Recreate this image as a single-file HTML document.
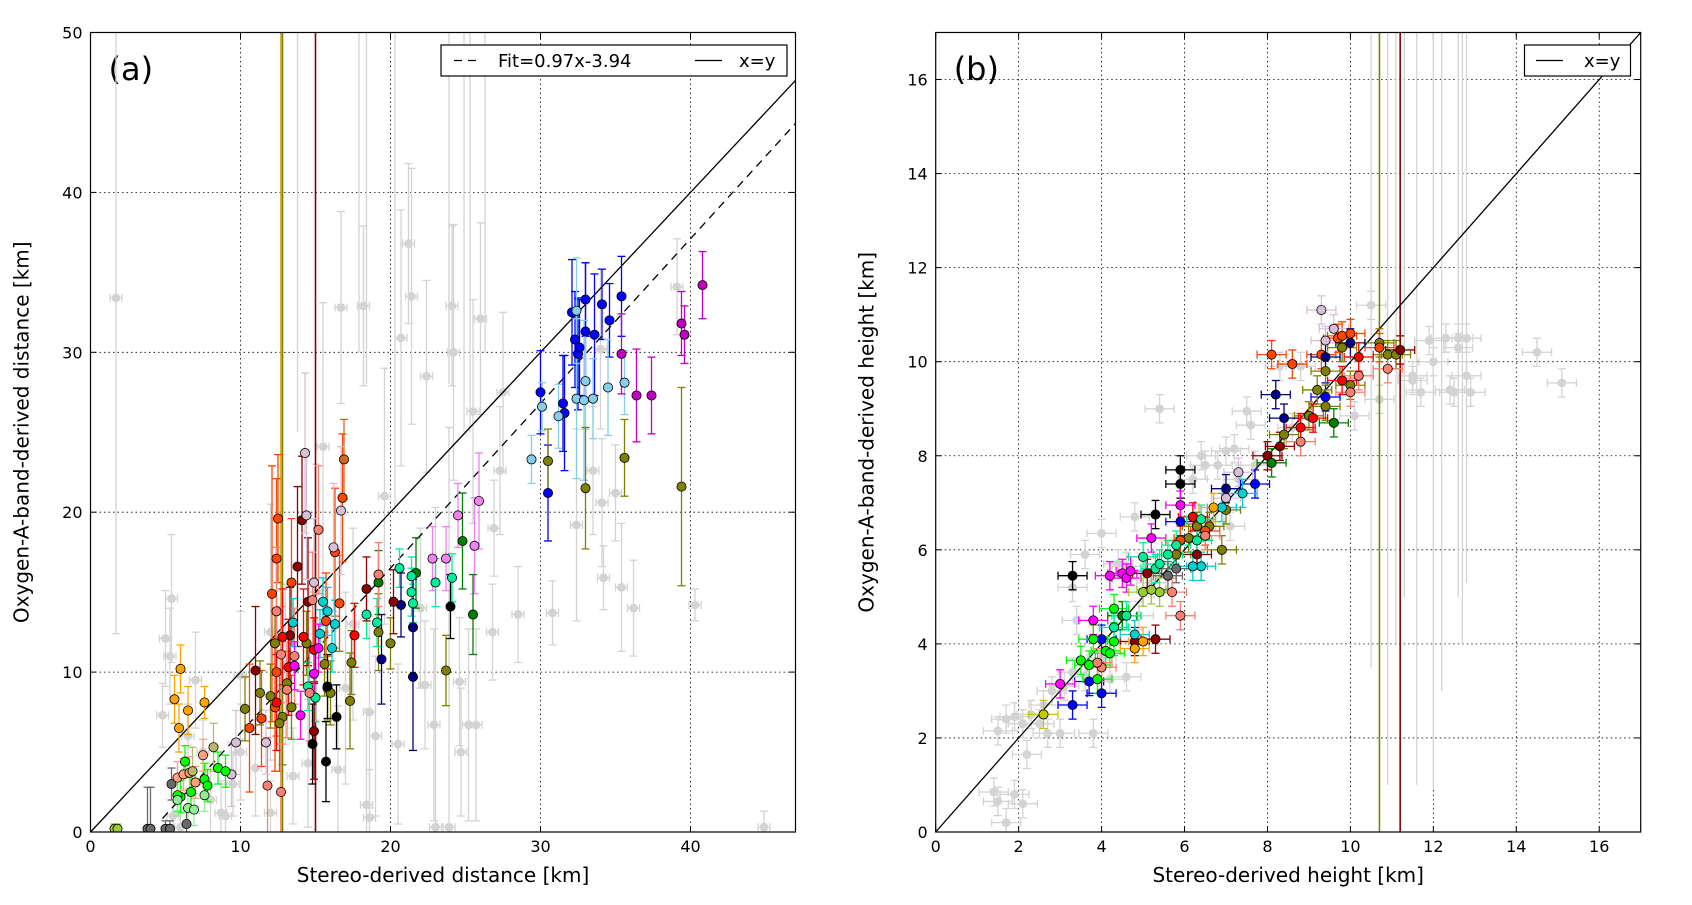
<!DOCTYPE html>
<html><head><meta charset="utf-8">
<style>
html,body{margin:0;padding:0;background:#fff;width:1692px;height:905px;overflow:hidden;}
svg{display:block;font-family:"DejaVu Sans","Liberation Sans",sans-serif;}
</style></head>
<body>
<svg id="fig" width="1692" height="905" viewBox="0 0 1692 905" xmlns="http://www.w3.org/2000/svg">
<defs>
<clipPath id="clipA"><rect x="90.5" y="32.5" width="705" height="800"/></clipPath>
<clipPath id="clipB"><rect x="935.7" y="32.5" width="705" height="800"/></clipPath>
</defs>
<rect width="1692" height="905" fill="#fff"/>
<g id="panelA"></g>
<g id="panelB"></g>
</svg>
<script>
// ---------- Panel (a) data: [x, y, yerr] ----------
const aTicksX = [0,10,20,30,40];
const aTicksY = [0,10,20,30,40,50];
const aGray = [[1.7,33.4,21],[5.4,14.6,4],[5,12.1,3],[5.3,11,3],[4.8,7.3,2],[7,9.5,3],[10,9.8,4],[13,10.5,5],[15.5,24.1,9],[16.7,32.8,6],[18.2,32.9,5],[18.4,1.7,6],[21.2,36.8,5],[20.7,30.9,8],[21.4,33.5,8],[22.4,28.5,6],[24.1,32.9,5],[24.2,30,8],[25.5,26.3,7],[26,32.1,6],[26.9,19,3],[27.3,22.6,4],[27.5,27.5,5],[28.5,13.6,3],[26.8,12.5,3],[30.8,13.7,2],[32.4,19.2,6],[33.5,22.6,4],[34,30.2,5],[34.1,20.6,4],[35,21.2,3],[34.2,15.9,2],[35.4,15.3,4],[36.2,14,3],[39.1,34.1,3],[40.3,14.2,1],[44.9,0.3,1],[25.7,6.7,6],[25.2,6.7,6],[22.9,6.7,6],[24.7,5,4],[22.3,9.2,4],[24.6,9.4,4],[23,0.3,20],[23.9,0.3,25],[20.5,5.5,5],[18.6,7.5,6],[16.5,3.9,4],[14.5,4.3,4],[12,12.5,8],[10,5,3],[9,1,2],[8.7,1.2,2],[12,1.2,2],[18.6,0.9,3],[19.6,21,8],[17.5,13,6],[22,14,5],[6.5,6,2],[7.5,5,2],[8,2,2],[9.5,3,2],[11,4,3],[13.5,3.5,3],[15,15,8],[17,9,6],[19,6,5],[5.5,1,1],[6,0.3,1]];
const aGrayTall = [[13.8,25],[17.9,30],[20.3,20],[23.9,28],[24.9,25],[25.3,25],[26.3,30],[18.4,28]];
const aSeries = [
 ['#0000ff',[[30,27.5,2.6],[30.5,21.2,3],[31.5,26.8,3],[31.6,26.2,3.6],[32.1,32.5,3.3],[32.3,30.8,3],[32.5,29.9,3.5],[32.6,30.3,3],[33,33.3,2.3],[33,31.3,4.3],[33.6,31.1,3.8],[34.1,33,2.2],[34.6,32,2.3],[35.4,33.5,2.5]]],
 ['#87ceeb',[[29.4,23.3,1.5],[30.1,26.6,1.5],[31.2,26,2],[32.4,32.6,3.3],[32.4,27.1,5],[32.9,27,5],[33,28.2,3],[33.5,27.1,2.5],[34.5,27.8,3],[35.6,28.1,2]]],
 ['#c000c0',[[35.4,29.9,2.5],[36.4,27.3,2.9],[37.4,27.3,2.4],[39.4,31.8,2],[39.6,31.1,1.8],[40.8,34.2,2.1]]],
 ['#808000',[[30.5,23.2,2],[33,21.5,3.8],[35.6,23.4,2.4],[39.4,21.6,6.2],[23.7,10.1,2.2],[19.2,12.5,2.4],[20,11.8,1.6],[17.4,10.6,2],[17.3,8.2,3],[12.3,11.8,2],[11.3,8.7,2],[12,8.5,2],[12.8,7.2,3],[13.4,7.8,2],[15.6,10.5,2],[15.8,9,2],[13.1,9.3,2],[14.4,11.8,2],[12.6,6.8,3],[10.3,7.7,2],[16,8.7,2]]],
 ['#ee82ee',[[22.8,17.1,2],[23.7,17.1,2],[24.5,19.8,2],[25.6,17.9,3],[25.9,20.7,3]]],
 ['#008000',[[24.8,18.2,3],[25.5,13.6,2.5],[21.7,16.2,2.2],[19.2,15.6,2]]],
 ['#00ee99',[[20.6,16.5,1.2],[21.4,16,1.2],[23,15.6,1.5],[24.1,15.9,1.5],[21.4,15,1.5],[21.5,14.3,1.2],[18.4,13.6,1.5],[19.1,13.1,1.5],[15,8.4,1.5],[14.5,9.1,1.5]]],
 ['#000080',[[19.4,10.8,2.8],[20.7,14.2,2],[21.5,12.8,3],[21.5,9.7,4.6]]],
 ['#000000',[[24,14.1,2],[16.4,7.2,2],[15.7,4.4,2.5],[14.8,5.5,2.5],[15.8,9.1,2]]],
 ['#8b0000',[[11,10.1,4],[18.4,15.2,2],[20.2,14.4,2],[14.1,19.5,4],[13.8,16.6,5],[14.5,14.4,4],[13.3,12.3,3],[14.9,6.3,3]]],
 ['#ff4500',[[12.5,19.6,4],[12.4,17.1,5],[16.3,17.5,4],[16.8,20.9,4],[12.1,14.9,8],[10.6,6.5,4],[11.4,7.1,3],[12.4,10,4],[13.4,15.6,4],[12.3,7.8,4],[16.6,14.3,3],[15.7,13.2,3]]],
 ['#d2691e',[[16.9,23.3,2.5]]],
 ['#fa8072',[[15.2,18.9,4],[11.8,2.9,3],[12.7,2.5,3],[19.2,16.1,2],[12.4,13.8,4],[13.6,11,3],[14.8,14.5,3],[13.1,8.9,3],[14.6,8.7,3],[12.7,11.1,3]]],
 ['#d8bfd8',[[14.3,23.7,5],[14.4,19.8,4],[16.2,17.8,4],[16.7,20.1,4],[9.7,5.6,2],[9.4,3.6,2],[11.7,5.6,2],[14.9,15.6,4]]],
 ['#ff0000',[[17.6,12.3,2],[14.9,11.4,2],[12.8,12.2,3],[12.4,8.1,3],[13.2,10.3,3],[14.2,12.2,3]]],
 ['#ffa500',[[6,10.2,1.5],[5.6,8.3,1.5],[5.9,6.5,1.5],[6.5,7.6,1.5],[7.6,8.1,1]]],
 ['#00ff00',[[6.3,4.4,1],[6,2.2,1],[7.6,3.3,1],[8.5,4,1],[9,3.8,1],[7.8,2.9,1],[6.7,2.5,1],[5.8,2.3,1]]],
 ['#90ee90',[[6.5,1.5,1],[7.6,2.3,1],[5.8,2,1],[6.9,1.4,1]]],
 ['#696969',[[5.4,3,1],[6.4,0.5,1],[3.8,0.2,2.6],[4,0.2,2.6],[5,0.2,0.5],[5.3,0.2,0.5]]],
 ['#9acd32',[[1.6,0.2,0.3],[1.8,0.2,0.3]]],
 ['#ffa07a',[[5.8,3.4,1],[6.2,3.6,1],[6.6,3.7,1],[7.5,4.8,1],[7,3.1,1]]],
 ['#00ced1',[[15.8,13.8,1.5],[15.5,14.4,1.5],[16.3,13,1.5],[16.1,11.5,1.5],[15.3,12.4,1.5],[13.5,13.1,1.5]]],
 ['#ff00ff',[[14.9,9.9,1.5],[14,7.3,1.5],[15.2,11.5,1.5],[13.6,10.4,1.5]]],
 ['#bdb76b',[[8.2,5.3,1.5],[6.8,3.8,1.5]]]
];
const aTall = [['#808000',12.8],['#d2a000',12.7],['#8b0000',15]];
// drawn fit line (as plotted in the figure)
const aFitSlope = 1.03, aFitIntercept = -4.1;

// ---------- Panel (b) data: [x, y] ----------
const bTicks = [0,2,4,6,8,10,12,14,16];
const bGray = [[1.4,0.85],[1.5,0.65],[1.7,0.2],[1.9,0.8],[2.1,0.6],[2.2,1.65],[1.5,2.15],[1.7,2.4],[1.9,2.45],[2.1,2.3],[2.5,2.3],[2.7,2.1],[3,2.1],[3.8,2.1],[2.8,3],[3.3,5.2],[3.6,5.9],[4,6.35],[5.4,9],[7.5,8.95],[7.6,8.65],[7,8.1],[6.5,7.8],[10.5,11.2],[10.7,9.2],[10.1,8.85],[11.5,9.6],[11.7,9.35],[12,10],[12.4,9.4],[12.5,9.35],[12.9,9.35],[12.8,9.7],[12.3,10.5],[12.6,10.5],[12.8,10.5],[12.6,10.3],[14.5,10.2],[15.1,9.55],[11.9,10.45],[11.5,9.7],[8.3,9.9],[8.8,9.9],[6.2,7.5],[7.2,8.15],[4.6,5.65],[4.2,3.25],[3.3,3.4],[4.6,3.3],[7.1,6.5],[6.8,7.8],[2.3,2.5],[2.6,2.7],[3.1,3.1],[3.6,3.3],[4,3.7],[4.9,4.6],[5.2,5.3],[6.6,6.6],[7.7,7.8],[8.6,8.6],[3.4,4.5],[4.4,5.7],[4.8,6.7],[6.4,8],[7.3,7.5]];
const bGrayTall = [[10.5,3.5],[10.9,1],[11.1,4],[11.3,5],[11.6,1],[12.0,0.9],[12.2,3],[12.6,5],[12.7,4],[12.8,5.3]];
const bSeries = [
 ['#000000',[[3.3,5.45],[5.3,6.75],[5.9,7.4],[5.9,7.7]]],
 ['#0000ff',[[3.3,2.7],[4,2.95],[3.7,3.2],[7.7,7.4],[9.4,9.25],[4,4.1],[5.9,6.6]]],
 ['#ff00ff',[[3.8,4.5],[4.2,5.45],[4.5,5.5],[4.6,5.4],[4.7,5.55],[5.2,6.25],[5.9,6.95],[3,3.15]]],
 ['#00ff00',[[3.5,3.65],[3.8,4.1],[3.9,3.25],[4.1,3.85],[4.2,3.8],[4.3,4.05],[4.3,4.75],[4.5,4.6],[3.7,3.55]]],
 ['#c8c800',[[2.6,2.5]]],
 ['#808000',[[5.8,5.9],[6.1,6.25],[6.9,6.0],[7,6.85],[8.4,8.45],[9,8.85],[9.4,9.05],[9.8,10.3],[10.7,10.4],[10.9,10.15],[11.1,10.15],[9.2,9.4],[10,9.5],[6.3,6.5],[6.6,6.5],[9.4,9.8]]],
 ['#ff4500',[[8.1,10.15],[8.6,9.95],[9.3,10.15],[9.7,10.5],[9.8,10.55],[10,10.6],[10.7,10.3],[5.9,6.2],[6.5,6.4]]],
 ['#fa8072',[[5.9,4.6],[8.8,8.3],[10.2,9.7],[10.9,9.85],[10,9.35],[4,3.5],[3.9,3.6],[6.5,6.3],[5.7,5.1]]],
 ['#d8bfd8',[[9.3,11.1],[9.6,10.7],[7.3,7.65],[9.4,10.45],[7,7.1]]],
 ['#000080',[[8.2,9.3],[10,10.4],[9.4,10.1],[7,7.3],[8.4,8.8]]],
 ['#8b0000',[[5.3,4.1],[4.8,4.05],[8.3,8.2],[11.2,10.25],[6.3,5.9],[8,8],[5.1,5.5]]],
 ['#ff0000',[[9.8,9.6],[10.2,10.1],[8.8,8.6],[9.1,8.8],[6.2,6.7]]],
 ['#008000',[[9.6,8.7],[8.1,7.85],[4.5,4.6]]],
 ['#00ee99',[[4.6,4.6],[5.3,5.6],[5.6,5.9],[5,5.85],[6.4,6.65],[5.4,5.7],[4.3,4.35],[5.8,6.1],[6.3,6.2]]],
 ['#00ced1',[[7.4,7.2],[6.4,5.65],[6.2,5.65],[4.8,4.2],[6.9,6.9]]],
 ['#ffa500',[[6.7,6.9],[4.8,3.9],[5,4.05]]],
 ['#9acd32',[[5,5.1],[5.4,5.1],[5.2,5.15]]],
 ['#696969',[[5.6,5.45],[5.8,5.6]]]
];
const bTall = [['#808000',10.7],['#8b0000',11.2]];

// ---------- axes functions ----------
const A = {x0:90.5, x1:795.5, y0:832, y1:32.5, xmax:47, ymax:50};
const B = {x0:935.7, x1:1640.7, y0:832, y1:32.5, xmax:17, ymax:17};
const ax = v => A.x0 + v*(A.x1-A.x0)/A.xmax;
const ay = v => A.y0 - v*(A.y0-A.y1)/A.ymax;
const bx = v => B.x0 + v*(B.x1-B.x0)/B.xmax;
const by = v => B.y0 - v*(B.y0-B.y1)/B.ymax;

const NS='http://www.w3.org/2000/svg';
function mk(parent, tag, attrs){const e=document.createElementNS(NS,tag);for(const k in attrs)e.setAttribute(k,attrs[k]);parent.appendChild(e);return e;}

function drawFrame(g, P, fx, fy, ticksX, ticksY, xlabel, ylabel, tag){
  const grid = mk(g,'g',{});
  
  
  ticksX.forEach(t=>{ if(t>0) mk(grid,'line',{x1:fx(t),x2:fx(t),y1:P.y0,y2:P.y1,stroke:'#000','stroke-width':0.8,'stroke-dasharray':'1.5,3'}); });
  ticksY.forEach(t=>{ if(t>0 && t<P.ymax) mk(grid,'line',{x1:P.x0,x2:P.x1,y1:fy(t),y2:fy(t),stroke:'#000','stroke-width':0.8,'stroke-dasharray':'1.5,3'}); });
  const xt = mk(g,'g',{});
  
  
  ticksX.forEach(t=>{
    mk(g,'line',{x1:fx(t),x2:fx(t),y1:P.y0,y2:P.y0-6,stroke:'#000','stroke-width':1});
    mk(g,'line',{x1:fx(t),x2:fx(t),y1:P.y1,y2:P.y1+6,stroke:'#000','stroke-width':1});
    const tx=mk(xt,'text',{x:fx(t),y:P.y0+20,'font-size':16,'text-anchor':'middle'}); tx.textContent=t;
  });
  const yt = mk(g,'g',{});
  
  
  ticksY.forEach(t=>{
    mk(g,'line',{x1:P.x0,x2:P.x0+6,y1:fy(t),y2:fy(t),stroke:'#000','stroke-width':1});
    mk(g,'line',{x1:P.x1,x2:P.x1-6,y1:fy(t),y2:fy(t),stroke:'#000','stroke-width':1});
    const tx=mk(yt,'text',{x:P.x0-8,y:fy(t)+6,'font-size':16,'text-anchor':'end'}); tx.textContent=t;
  });
  const xl=mk(g,'text',{x:(P.x0+P.x1)/2,y:P.y0+50,'font-size':20,'text-anchor':'middle'}); xl.textContent=xlabel;
  
  
  const yl=mk(g,'text',{x:0,y:0,'font-size':20,'text-anchor':'middle',transform:`translate(${P.x0-62},${(P.y0+P.y1)/2}) rotate(-90)`}); yl.textContent=ylabel;
  
  
  const pl=mk(g,'text',{x:P.x0+18,y:80,'font-size':32}); pl.textContent=tag;
  
  
}

function errbar(g,x1,y1,x2,y2,col,vert){
  mk(g,'line',{x1,y1,x2,y2,stroke:col,'stroke-width':1.3});
  if(vert){ mk(g,'line',{x1:x1-4,x2:x1+4,y1,y2:y1,stroke:col,'stroke-width':1.3}); mk(g,'line',{x1:x1-4,x2:x1+4,y1:y2,y2,stroke:col,'stroke-width':1.3}); }
  else { mk(g,'line',{x1,x2:x1,y1:y1-4,y2:y1+4,stroke:col,'stroke-width':1.3}); mk(g,'line',{x1:x2,x2,y1:y2-4,y2:y2+4,stroke:col,'stroke-width':1.3}); }
}

// ---------- Panel A ----------
(function(){
  const g=document.getElementById('panelA');
  drawFrame(g,A,ax,ay,aTicksX,aTicksY,'Stereo-derived distance [km]','Oxygen-A-band-derived distance [km]','(a)');
  const d=mk(g,'g',{'clip-path':'url(#clipA)'});
  
  
  aGrayTall.forEach(p=>{ mk(d,'line',{x1:ax(p[0]),x2:ax(p[0]),y1:ay(p[1]),y2:ay(50),stroke:'#d3d3d3','stroke-width':1.3}); });
  aGray.forEach(p=>{
    errbar(d,ax(p[0]),ay(p[1]-p[2]),ax(p[0]),ay(p[1]+p[2]),'#d3d3d3',true);
    errbar(d,ax(p[0]-0.4),ay(p[1]),ax(p[0]+0.4),ay(p[1]),'#d3d3d3',false);
    const c=mk(d,'circle',{cx:ax(p[0]),cy:ay(p[1]),r:4.4,fill:'#d3d3d3'});
    
    
  });
  aTall.forEach(t=>{ mk(d,'line',{x1:ax(t[1]),x2:ax(t[1]),y1:ay(0),y2:ay(50),stroke:t[0],'stroke-width':1.6}); });
  const xy=mk(d,'line',{x1:ax(0),y1:ay(0),x2:ax(47),y2:ay(47),stroke:'#000','stroke-width':1.3});
  
  
  const xs=4.8, xe=47;
  const fit=mk(d,'line',{x1:ax(xs),y1:ay(aFitSlope*xs+aFitIntercept),x2:ax(xe),y2:ay(aFitSlope*xe+aFitIntercept),stroke:'#000','stroke-width':1.3,'stroke-dasharray':'8,6'});
  
  
  aSeries.forEach(s=>{ s[1].forEach(p=>{ errbar(d,ax(p[0]),ay(p[1]-p[2]),ax(p[0]),ay(p[1]+p[2]),s[0],true); }); });
  aSeries.forEach(s=>{ s[1].forEach(p=>{
    const c=mk(d,'circle',{cx:ax(p[0]),cy:ay(p[1]),r:4.6,fill:s[0],stroke:'#000','stroke-width':0.8});
    
    
  }); });
  mk(g,'rect',{x:A.x0,y:A.y1,width:A.x1-A.x0,height:A.y0-A.y1,fill:'none',stroke:'#000','stroke-width':1.2});
  const lg=mk(g,'g',{});
  
  
  mk(lg,'rect',{x:441,y:45,width:346,height:31,fill:'#fff',stroke:'#000','stroke-width':1.2});
  mk(lg,'line',{x1:454,x2:482,y1:60.5,y2:60.5,stroke:'#000','stroke-width':1.3,'stroke-dasharray':'8,6'});
  const t1=mk(lg,'text',{x:498,y:67,'font-size':18}); t1.textContent='Fit=0.97x-3.94';
  mk(lg,'line',{x1:695,x2:722,y1:60.5,y2:60.5,stroke:'#000','stroke-width':1.3});
  const t2=mk(lg,'text',{x:739,y:67,'font-size':18}); t2.textContent='x=y';
})();

// ---------- Panel B ----------
(function(){
  const g=document.getElementById('panelB');
  drawFrame(g,B,bx,by,bTicks,bTicks,'Stereo-derived height [km]','Oxygen-A-band-derived height [km]','(b)');
  const d=mk(g,'g',{'clip-path':'url(#clipB)'});
  
  
  bGrayTall.forEach(p=>{ mk(d,'line',{x1:bx(p[0]),x2:bx(p[0]),y1:by(p[1]),y2:by(17),stroke:'#d3d3d3','stroke-width':1.3}); });
  bGray.forEach(p=>{
    errbar(d,bx(p[0]),by(p[1]-0.3),bx(p[0]),by(p[1]+0.3),'#d3d3d3',true);
    errbar(d,bx(p[0]-0.35),by(p[1]),bx(p[0]+0.35),by(p[1]),'#d3d3d3',false);
    const c=mk(d,'circle',{cx:bx(p[0]),cy:by(p[1]),r:4.4,fill:'#d3d3d3'});
    
    
  });
  bTall.forEach(t=>{ mk(d,'line',{x1:bx(t[1]),x2:bx(t[1]),y1:by(0),y2:by(17),stroke:t[0],'stroke-width':1.6}); });
  const xy=mk(d,'line',{x1:bx(0),y1:by(0),x2:bx(17),y2:by(17),stroke:'#000','stroke-width':1.3});
  
  
  bSeries.forEach(s=>{ s[1].forEach(p=>{
    errbar(d,bx(p[0]),by(p[1]-0.3),bx(p[0]),by(p[1]+0.3),s[0],true);
    errbar(d,bx(p[0]-0.35),by(p[1]),bx(p[0]+0.35),by(p[1]),s[0],false);
  }); });
  bSeries.forEach(s=>{ s[1].forEach(p=>{
    const c=mk(d,'circle',{cx:bx(p[0]),cy:by(p[1]),r:4.6,fill:s[0],stroke:'#000','stroke-width':0.8});
    
    
  }); });
  mk(g,'rect',{x:B.x0,y:B.y1,width:B.x1-B.x0,height:B.y0-B.y1,fill:'none',stroke:'#000','stroke-width':1.2});
  const lg=mk(g,'g',{});
  
  
  mk(lg,'rect',{x:1524.5,y:45,width:106,height:31,fill:'#fff',stroke:'#000','stroke-width':1.2});
  mk(lg,'line',{x1:1536,x2:1563,y1:60.5,y2:60.5,stroke:'#000','stroke-width':1.3});
  const t2=mk(lg,'text',{x:1584,y:67,'font-size':18}); t2.textContent='x=y';
})();
</script>
</body></html>
